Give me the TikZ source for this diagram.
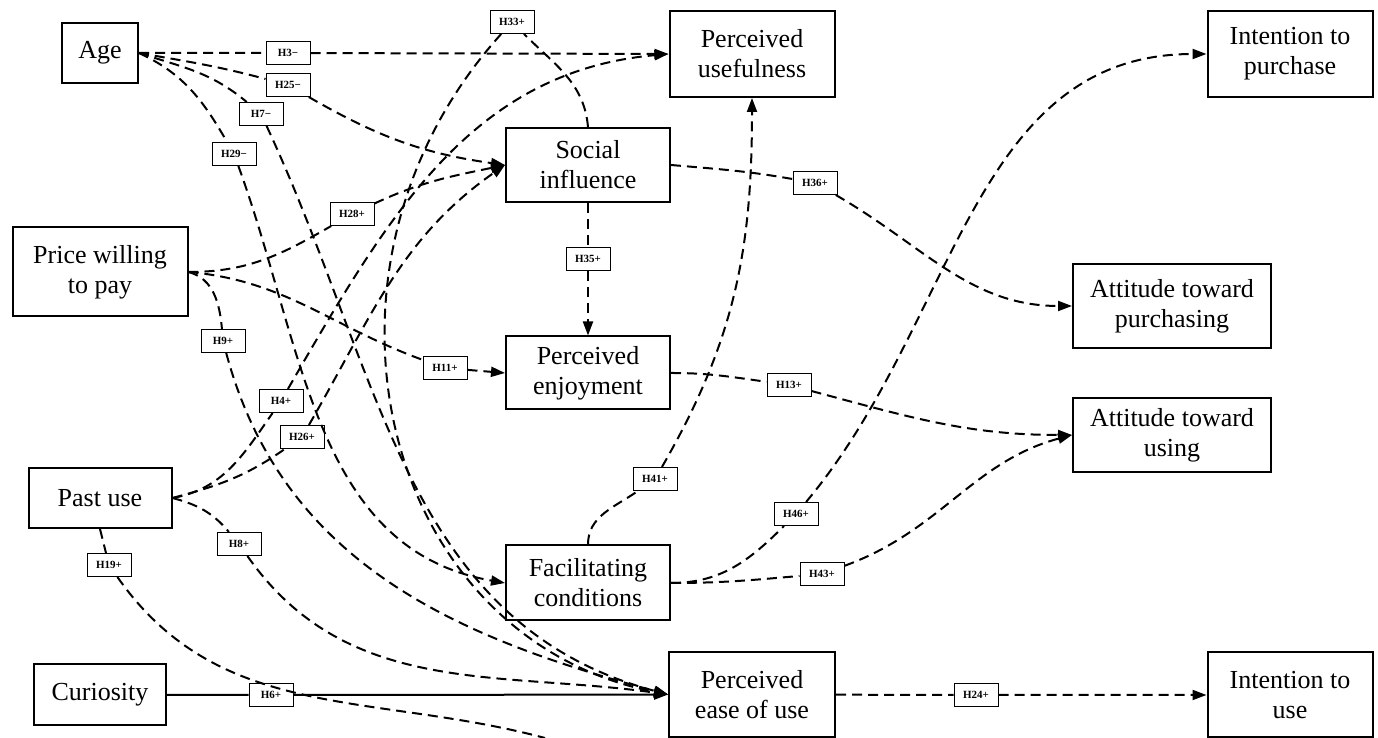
\documentclass[tikz,border=0pt]{standalone}
\usepackage{fontspec}
\setmainfont{Liberation Serif}
\usetikzlibrary{arrows.meta}

\begin{document}
\begin{tikzpicture}[x=0.5pt,y=0.5pt,
    box/.style={draw,line width=1pt,align=center,inner sep=0pt,font=\fontsize{13}{15}\selectfont},
    hyp/.style={draw,line width=0.5pt,inner sep=0pt,minimum width=22pt,minimum height=11.5pt,font=\fontsize{5.5}{6}\selectfont\bfseries},
    link/.style={dash pattern=on 5pt off 3pt,line width=1pt},
    arr/.style={-{Triangle[length=7pt,width=5pt]}}]
  \useasboundingbox (0,0) rectangle (1378,738);

  \node[box,minimum width=38pt,minimum height=30pt] (age) at (100,685) {Age};
  \node[box,minimum width=87.5pt,minimum height=44.5pt] (price) at (100,466) {Price willing\\to pay};
  \node[box,minimum width=71.5pt,minimum height=30pt] (past) at (100,240) {Past use};
  \node[box,minimum width=66pt,minimum height=30.5pt] (cur) at (100,43) {Curiosity};
  \node[box,minimum width=82.5pt,minimum height=43pt] (pu) at (752,684) {Perceived\\usefulness};
  \node[box,minimum width=82pt,minimum height=37pt] (si) at (588,573) {Social\\influence};
  \node[box,minimum width=82pt,minimum height=36.5pt] (pe) at (588,365) {Perceived\\enjoyment};
  \node[box,minimum width=82pt,minimum height=37.5pt] (fc) at (588,155) {Facilitating\\conditions};
  \node[box,minimum width=83pt,minimum height=42.5pt] (peou) at (752,43.5) {Perceived\\ease of use};
  \node[box,minimum width=82.5pt,minimum height=43pt] (ip) at (1290,684) {Intention to\\purchase};
  \node[box,minimum width=99pt,minimum height=42pt] (ap) at (1172,432) {Attitude toward\\purchasing};
  \node[box,minimum width=99pt,minimum height=37pt] (au) at (1172,303) {Attitude toward\\using};
  \node[box,minimum width=82.5pt,minimum height=42.5pt] (iu) at (1290,43) {Intention to\\use};
  \coordinate (off) at (545,0);

  \node[hyp] (h3) at (288,685) {H3−};
  \node[hyp] (h25) at (288,653) {H25−};
  \node[hyp] (h7) at (261,624) {H7−};
  \node[hyp] (h29) at (234,584) {H29−};
  \node[hyp] (h28) at (352,524) {H28+};
  \node[hyp] (h33) at (512,716) {H33+};
  \node[hyp] (h36) at (815,555) {H36+};
  \node[hyp] (h35) at (588,479) {H35+};
  \node[hyp] (h11) at (445,370) {H11+};
  \node[hyp] (h13) at (789,353) {H13+};
  \node[hyp] (h41) at (655,259) {H41+};
  \node[hyp] (h9) at (223,397) {H9+};
  \node[hyp] (h4) at (281,337) {H4+};
  \node[hyp] (h26) at (302,301) {H26+};
  \node[hyp] (h8) at (239,194) {H8+};
  \node[hyp] (h19) at (109,173) {H19+};
  \node[hyp] (h6) at (271,43) {H6+};
  \node[hyp] (h46) at (796,224) {H46+};
  \node[hyp] (h43) at (822,164) {H43+};
  \node[hyp] (h24) at (976,43) {H24+};

  % age
  \draw[link,arr] (age.east) -- (h3) -- (pu.west);
  \draw[link,arr] (age.east) to[out=-10,in=165] (h25) to[out=-30,in=172] (si.west);
  \draw[link,arr] (age.east) to[out=-18,in=140] (h7) to[out=-65,in=165] (peou.west);
  \draw[link,arr] (age.east) to[out=-25,in=120] (h29) to[out=-70,in=170] (fc.west);

  % price willing to pay
  \draw[link,arr] (price.east) to[out=0,in=210] (h28) to[out=25,in=192] (si.west);
  \draw[link,arr] (price.east) to[out=-5,in=160] (h11) -- (pe.west);
  \draw[link,arr] (price.east) to[out=-15,in=95] (h9) to[out=-75,in=165] (peou.west);

  % past use
  \draw[link,arr] (past.east) to[out=10,in=235] (h4) to[out=60,in=185] (pu.west);
  \draw[link,arr] (past.east) to[out=15,in=215] (h26) to[out=60,in=215] (si.west);
  \draw[link,arr] (past.east) to[out=-15,in=130] (h8) to[out=-55,in=172] (peou.west);
  \draw[link] (past.south) -- (h19) to[out=-55,in=165] (off);

  \draw[line width=1pt,arr] (cur) -- (h6) -- (peou);

  % social influence
  \draw[link,arr] (si.north) to[out=95,in=-45] (h33) .. controls (290,470) and (380,100) .. (peou.west);
  \draw[link,arr] (si) -- (h35) -- (pe);
  \draw[link,arr] (si.east) to[out=-5,in=170] (h36) to[out=-30,in=180] (ap.west);

  \draw[link,arr] (pe.east) to[out=0,in=172] (h13) to[out=-15,in=180] (au.west);

  % facilitating conditions
  \draw[link,arr] (fc.north) to[out=90,in=215] (h41) to[out=60,in=-90] (pu.south);
  \draw[link,arr] (fc.east) to[out=0,in=225] (h46) to[out=50,in=180] (ip.west);
  \draw[link,arr] (fc.east) to[out=0,in=185] (h43) to[out=20,in=195] (au.west);

  \draw[link,arr] (peou) -- (h24) -- (iu);
\end{tikzpicture}
\end{document}
